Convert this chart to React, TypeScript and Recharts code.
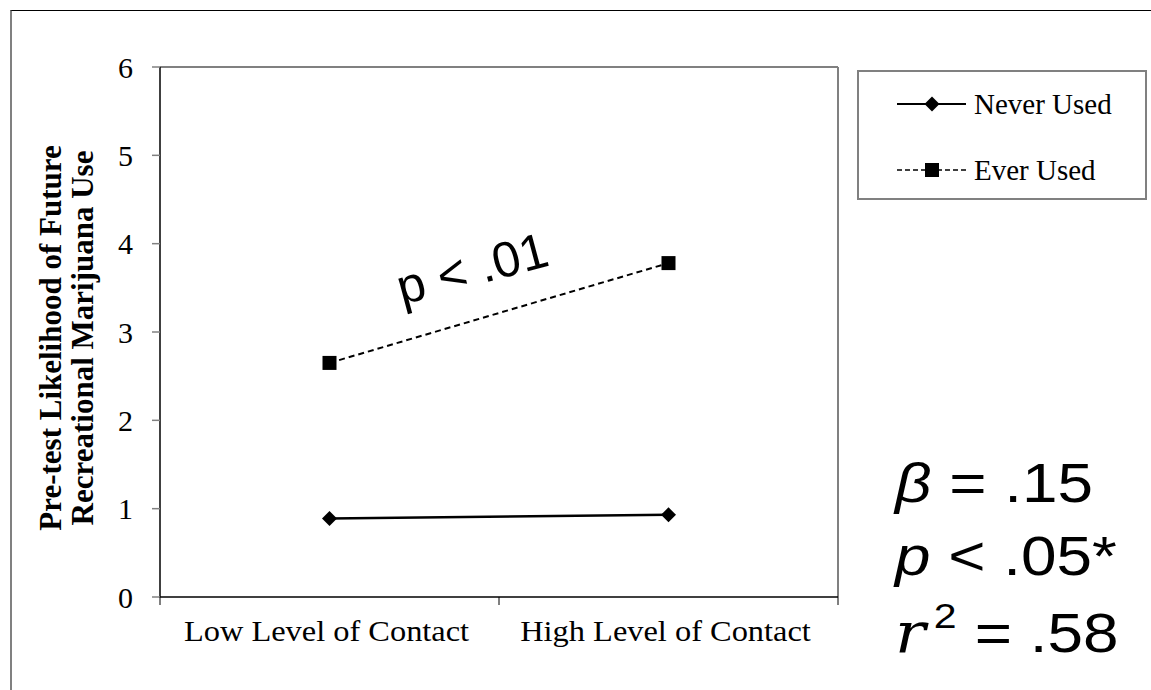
import React from "react";
import { LineChart, Line, XAxis, YAxis, ReferenceLine, Legend, Customized } from "recharts";

const CATEGORIES = ["Low Level of Contact", "High Level of Contact"];
const NEVER_USED = [0.89, 0.93];
const EVER_USED = [2.65, 3.78];
const SERIES_NAMES = ["Never Used", "Ever Used"];
const Y_TICKS = [0, 1, 2, 3, 4, 5, 6];
// integer positions get a tick mark, half positions carry the category name
const X_TICKS = [0, 0.5, 1, 1.5, 2];
const Y_TITLE = ["Pre-test Likelihood of Future", "Recreational Marijuana Use"];

const SERIF = "'Liberation Serif', 'Times New Roman', serif";
const SANS = "'Liberation Sans', Arial, sans-serif";
const MATH = "'DejaVu Serif', serif";
const GREY = "#808080";

const data = CATEGORIES.map((name, i) => ({
  name,
  pos: i + 0.5,
  never: NEVER_USED[i],
  ever: EVER_USED[i],
}));

function Diamond(props: any) {
  const { cx, cy } = props;
  if (cx == null || cy == null) return <g />;
  const r = 7.5;
  return <path d={`M${cx},${cy - r}L${cx + r},${cy}L${cx},${cy + r}L${cx - r},${cy}Z`} fill="#000" />;
}

function Square(props: any) {
  const { cx, cy } = props;
  if (cx == null || cy == null) return <g />;
  return <rect x={cx - 7} y={cy - 7} width={14} height={14} fill="#000" />;
}

function ContactTick(props: any) {
  const { x, y, payload } = props;
  const v = payload.value;
  if (Number.isInteger(v)) {
    return <line x1={x} x2={x} y1={y} y2={y + 8} stroke="#000" strokeWidth={1} />;
  }
  return (
    <g transform={`translate(${x - 3},${y + 44}) scale(1.08,1)`}>
      <text textAnchor="middle" fontFamily={SERIF} fontSize={30} fill="#000">
        {CATEGORIES[Math.floor(v)]}
      </text>
    </g>
  );
}

function LegendBox() {
  return (
    <svg width={288} height={128} style={{ display: "block" }}>
      {SERIES_NAMES.map((name, i) => {
        const cy = 32 + i * 66;
        return (
          <g key={name}>
            <line
              x1={38}
              x2={107}
              y1={cy}
              y2={cy}
              stroke="#000"
              strokeWidth={i === 0 ? 2 : 1.6}
              strokeDasharray={i === 0 ? undefined : "5 3"}
            />
            {i === 0 ? <Diamond cx={73} cy={cy} /> : <Square cx={73} cy={cy} />}
            <text x={115} y={cy + 10} fontFamily={SERIF} fontSize={29} fill="#000">
              {name}
            </text>
          </g>
        );
      })}
    </svg>
  );
}

function Annotations() {
  return (
    <g>
      {Y_TITLE.map((line, i) => (
        <text
          key={line}
          transform={`translate(${61 + i * 32},338) rotate(-90)`}
          textAnchor="middle"
          fontFamily={SERIF}
          fontWeight="bold"
          fontSize={31}
          fill="#000"
        >
          {line}
        </text>
      ))}
      <text transform="translate(402,305) rotate(-15)" fontFamily={SANS} fontSize={50} fill="#000">
        p &lt; .01
      </text>
      <g transform="translate(895,0) scale(1.14,1)" fill="#000">
        <text x={0} y={502} fontFamily={SANS} fontSize={56}>
          <tspan fontStyle="italic">β</tspan> = .15
        </text>
        <text x={0} y={575} fontFamily={SANS} fontSize={56}>
          <tspan fontStyle="italic">p</tspan> &lt; .05*
        </text>
        <text x={0} y={652} fontFamily={MATH} fontStyle="italic" fontSize={56}>
          r
        </text>
        <text x={34} y={628} fontFamily={SANS} fontSize={36}>
          2
        </text>
        <text x={70} y={652} fontFamily={SANS} fontSize={56}>
          = .58
        </text>
      </g>
    </g>
  );
}

export default function App() {
  return (
    <div style={{ position: "absolute", left: 0, top: 0, width: 1151, height: 690, background: "#fff" }}>
      <div
        style={{
          position: "absolute",
          left: 10,
          top: 10,
          width: 1141,
          height: 680,
          borderTop: "1px solid #000",
          borderLeft: `2px solid ${GREY}`,
        }}
      />
      <div style={{ position: "absolute", left: 0, top: 0 }}>
        <LineChart width={1151} height={690} data={data} margin={{ top: 67, right: 313, bottom: 0, left: 0 }}>
          <XAxis
            type="number"
            dataKey="pos"
            domain={[0, 2]}
            ticks={X_TICKS}
            interval={0}
            height={93}
            tickSize={0}
            tickMargin={0}
            tickLine={false}
            axisLine={{ stroke: "#000", strokeWidth: 1.5 }}
            tick={<ContactTick />}
          />
          <YAxis
            type="number"
            domain={[0, 6]}
            ticks={Y_TICKS}
            interval={0}
            width={160}
            tickSize={8}
            tickMargin={19}
            axisLine={{ stroke: "#000", strokeWidth: 1.5 }}
            tickLine={{ stroke: GREY, strokeWidth: 1.5 }}
            tick={{ fontFamily: SERIF, fontSize: 30, fill: "#000" }}
          />
          <ReferenceLine y={6} stroke={GREY} strokeWidth={2} />
          <ReferenceLine x={2} stroke={GREY} strokeWidth={2} />
          <Line
            dataKey="never"
            name={SERIES_NAMES[0]}
            stroke="#000"
            strokeWidth={2.5}
            dot={<Diamond />}
            activeDot={false}
            isAnimationActive={false}
          />
          <Line
            dataKey="ever"
            name={SERIES_NAMES[1]}
            stroke="#000"
            strokeWidth={2}
            strokeDasharray="6 4"
            dot={<Square />}
            activeDot={false}
            isAnimationActive={false}
          />
          <Legend
            layout="horizontal"
            align="center"
            verticalAlign="middle"
            content={<LegendBox />}
            wrapperStyle={{
              left: 857,
              top: 70,
              width: 290,
              height: 130,
              border: `2px solid ${GREY}`,
              boxSizing: "border-box",
              background: "#fff",
            }}
          />
          <Customized component={Annotations} />
        </LineChart>
      </div>
    </div>
  );
}
